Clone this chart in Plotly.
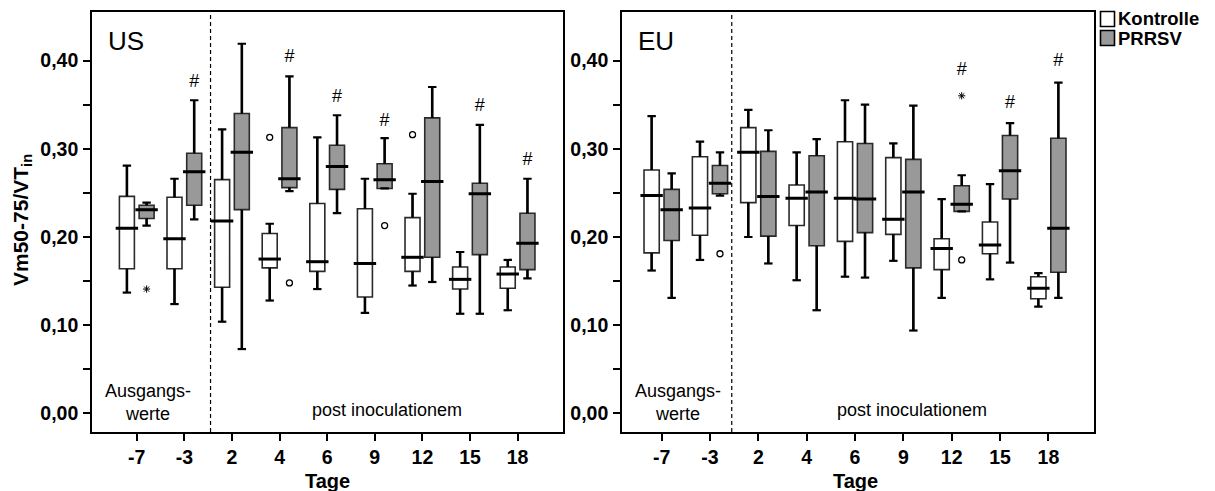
import numpy as np
import plotly.graph_objects as go

days = ["-7", "-3", "2", "4", "6", "9", "12", "15", "18"]

# US - Kontrolle
us_k_lo  = [0.137, 0.124, 0.104, 0.128, 0.141, 0.114, 0.145, 0.113, 0.117]
us_k_q1  = [0.164, 0.164, 0.143, 0.165, 0.161, 0.132, 0.161, 0.141, 0.142]
us_k_med = [0.210, 0.198, 0.218, 0.175, 0.172, 0.170, 0.177, 0.152, 0.158]
us_k_q3  = [0.246, 0.245, 0.265, 0.204, 0.238, 0.232, 0.222, 0.166, 0.166]
us_k_hi  = [0.281, 0.266, 0.322, 0.215, 0.313, 0.266, 0.249, 0.183, 0.174]
# US - PRRSV
us_p_lo  = [0.213, 0.220, 0.073, 0.252, 0.227, 0.255, 0.149, 0.113, 0.153]
us_p_q1  = [0.221, 0.236, 0.231, 0.256, 0.254, 0.255, 0.177, 0.180, 0.163]
us_p_med = [0.231, 0.274, 0.296, 0.266, 0.280, 0.265, 0.263, 0.249, 0.193]
us_p_q3  = [0.236, 0.295, 0.340, 0.324, 0.304, 0.283, 0.335, 0.261, 0.227]
us_p_hi  = [0.239, 0.355, 0.419, 0.382, 0.338, 0.312, 0.370, 0.327, 0.266]
# EU - Kontrolle
eu_k_lo  = [0.162, 0.174, 0.200, 0.151, 0.155, 0.173, 0.131, 0.152, 0.121]
eu_k_q1  = [0.182, 0.202, 0.239, 0.213, 0.195, 0.203, 0.163, 0.181, 0.130]
eu_k_med = [0.247, 0.233, 0.296, 0.244, 0.244, 0.220, 0.187, 0.191, 0.142]
eu_k_q3  = [0.276, 0.291, 0.324, 0.259, 0.308, 0.290, 0.198, 0.217, 0.155]
eu_k_hi  = [0.337, 0.308, 0.344, 0.296, 0.355, 0.306, 0.243, 0.260, 0.159]
# EU - PRRSV
eu_p_lo  = [0.131, 0.247, 0.170, 0.117, 0.154, 0.094, 0.229, 0.171, 0.131]
eu_p_q1  = [0.196, 0.249, 0.201, 0.190, 0.205, 0.165, 0.229, 0.243, 0.160]
eu_p_med = [0.231, 0.261, 0.246, 0.251, 0.243, 0.251, 0.237, 0.275, 0.210]
eu_p_q3  = [0.254, 0.281, 0.297, 0.292, 0.306, 0.288, 0.258, 0.315, 0.312]
eu_p_hi  = [0.272, 0.296, 0.321, 0.311, 0.350, 0.349, 0.270, 0.329, 0.375]

# outliers: (day index, group, value)
us_circles = [(3, "K", 0.313), (6, "K", 0.316), (3, "P", 0.148), (5, "P", 0.213)]
us_stars = [(0, "P", 0.141)]
eu_circles = [(1, "P", 0.181), (6, "P", 0.174)]
eu_stars = [(6, "P", 0.360)]
# significance markers (#) above PRRSV boxes
us_sig_idx = [1, 3, 4, 5, 7, 8]
us_sig_y = [0.375, 0.403, 0.358, 0.331, 0.348, 0.287]
eu_sig_idx = [6, 7, 8]
eu_sig_y = [0.389, 0.351, 0.399]

OFF = 0.207
BW = 0.315
WHITE = "#ffffff"
GRAY = "#999999"
BOLD = dict(family="Liberation Sans, Arial, sans-serif", weight="bold", color="black")
NORM = dict(family="Liberation Sans, Arial, sans-serif", color="black")

fig = go.Figure()
idx = np.arange(len(days))


def add_group(lo, q1, med, q3, hi, offset, fill, xa, ya):
    pos = idx + offset
    fig.add_trace(go.Box(
        x=pos, q1=q1, median=med, q3=q3, lowerfence=lo, upperfence=hi,
        width=BW, fillcolor=fill, line=dict(color="#2a2a2a", width=1.6),
        whiskerwidth=0, boxpoints=False, showlegend=False, hoverinfo="skip",
        xaxis=xa, yaxis=ya))
    wx, wy = [], []
    for p, a, b, c, d in zip(pos, lo, q1, q3, hi):
        wx += [p, p, None, p, p, None]
        wy += [a, b, None, c, d, None]
    fig.add_trace(go.Scatter(x=wx, y=wy, mode="lines", line=dict(color="black", width=2.6),
                             showlegend=False, hoverinfo="skip", xaxis=xa, yaxis=ya))
    fig.add_trace(go.Scatter(x=list(pos) + list(pos), y=list(lo) + list(hi), mode="markers",
                             marker=dict(symbol="line-ew", size=6, line=dict(color="black", width=2.2)),
                             showlegend=False, hoverinfo="skip", xaxis=xa, yaxis=ya))
    fig.add_trace(go.Scatter(x=pos, y=med, mode="markers",
                             marker=dict(symbol="line-ew", size=16, line=dict(color="black", width=3)),
                             showlegend=False, hoverinfo="skip", xaxis=xa, yaxis=ya))


def add_points(circles, stars, sig_idx, sig_y, xa, ya):
    gx = {"K": -OFF, "P": OFF}
    fig.add_trace(go.Scatter(x=[i + gx[g] for i, g, v in circles], y=[v for i, g, v in circles],
                             mode="markers",
                             marker=dict(symbol="circle-open", size=6, color="black", line=dict(width=1.3)),
                             showlegend=False, hoverinfo="skip", xaxis=xa, yaxis=ya))
    fig.add_trace(go.Scatter(x=[i + gx[g] for i, g, v in stars], y=[v for i, g, v in stars],
                             mode="markers",
                             marker=dict(symbol="asterisk-open", size=6, color="black", line=dict(width=1)),
                             showlegend=False, hoverinfo="skip", xaxis=xa, yaxis=ya))
    fig.add_trace(go.Scatter(x=[i + OFF for i in sig_idx], y=sig_y, mode="text", text=["#"] * len(sig_idx),
                             textfont=dict(size=18, **NORM), textposition="middle center",
                             showlegend=False, hoverinfo="skip", xaxis=xa, yaxis=ya))


add_group(us_k_lo, us_k_q1, us_k_med, us_k_q3, us_k_hi, -OFF, WHITE, "x", "y")
add_group(us_p_lo, us_p_q1, us_p_med, us_p_q3, us_p_hi, OFF, GRAY, "x", "y")
add_points(us_circles, us_stars, us_sig_idx, us_sig_y, "x", "y")
add_group(eu_k_lo, eu_k_q1, eu_k_med, eu_k_q3, eu_k_hi, -OFF, WHITE, "x2", "y2")
add_group(eu_p_lo, eu_p_q1, eu_p_med, eu_p_q3, eu_p_hi, OFF, GRAY, "x2", "y2")
add_points(eu_circles, eu_stars, eu_sig_idx, eu_sig_y, "x2", "y2")

W, H = 1215, 491
ydom = [1 - 432 / H, 1 - 12 / H]
xcommon = dict(tickvals=list(idx), ticktext=days, ticks="outside", ticklen=7, tickwidth=2,
               tickcolor="black", showline=True, mirror=True, linecolor="black", linewidth=1.6,
               showgrid=False, zeroline=False, tickfont=dict(size=19.5, **BOLD), fixedrange=True)
ycommon = dict(range=[-0.021, 0.455], tickvals=[0, 0.1, 0.2, 0.3, 0.4], tickformat=".2f",
               ticks="outside", ticklen=7, tickwidth=2, tickcolor="black",
               minor=dict(tickvals=[0.05, 0.15, 0.25, 0.35], ticks="outside", ticklen=7,
                          tickwidth=1.6, tickcolor="black"),
               showline=True, mirror=True, linecolor="black", linewidth=1.6, showgrid=False,
               zeroline=False, tickfont=dict(size=19.5, **BOLD), ticklabelstandoff=1, domain=ydom)

fig.update_layout(
    width=W, height=H, margin=dict(l=0, r=0, t=0, b=0), autosize=False,
    paper_bgcolor="white", plot_bgcolor="white", separators=",.",
    xaxis=dict(domain=[92 / W, 563.3 / W], range=[-0.94, 8.96], anchor="y", **xcommon),
    yaxis=dict(anchor="x", **ycommon),
    xaxis2=dict(domain=[622 / W, 1094.3 / W], range=[-0.82, 8.95], anchor="y2", **xcommon),
    yaxis2=dict(anchor="x2", **ycommon),
)

shapes = []
for xa, ya, xv in (("x", "y", 1.55), ("x2", "y2", 1.45)):
    shapes.append(dict(type="line", xref=xa, yref=ya + " domain", x0=xv, x1=xv, y0=0, y1=1,
                       line=dict(color="black", width=1.2, dash="4px,3px")))
# legend squares
shapes.append(dict(type="rect", xref="paper", yref="paper", x0=1100.5 / W, x1=1114.5 / W,
                   y0=1 - 26.5 / H, y1=1 - 11.5 / H, fillcolor=WHITE, line=dict(color="black", width=1.6)))
shapes.append(dict(type="rect", xref="paper", yref="paper", x0=1100.5 / W, x1=1114.5 / W,
                   y0=1 - 45.5 / H, y1=1 - 30.5 / H, fillcolor=GRAY, line=dict(color="black", width=1.6)))
fig.update_layout(shapes=shapes)

ann = []
ann.append(dict(text="US", xref="x domain", yref="y domain", x=0.03, y=(432 - 41) / 420,
                xanchor="left", yanchor="middle", showarrow=False, font=dict(size=26, **NORM)))
ann.append(dict(text="EU", xref="x2 domain", yref="y2 domain", x=0.03, y=(432 - 41) / 420,
                xanchor="left", yanchor="middle", showarrow=False, font=dict(size=26, **NORM)))
for xa, ya, xa_, xp in (("x", "y", 0.227, 5.25), ("x2", "y2", 0.337, 5.18)):
    ann.append(dict(text="Ausgangs-<br>werte", xref=xa, yref=ya, x=xa_, y=0.012, xanchor="center",
                    yanchor="middle", showarrow=False, font=dict(size=18, **NORM)))
    ann.append(dict(text="post inoculationem", xref=xa, yref=ya, x=xp, y=0.004, xanchor="center",
                    yanchor="middle", showarrow=False, font=dict(size=18, **NORM)))
    ann.append(dict(text="Tage", xref=xa, yref="paper", x=4, y=0, xanchor="center",
                    yanchor="bottom", yshift=-3, showarrow=False, font=dict(size=20, **BOLD)))
ann.append(dict(text="Vm50-75/VT<sub>in</sub>", xref="paper", yref="paper", x=22 / W, y=1 - 220 / H,
                textangle=-90, xanchor="center", yanchor="middle", showarrow=False,
                font=dict(size=21, **BOLD)))
ann.append(dict(text="Kontrolle", xref="paper", yref="paper", x=1117 / W, y=1 - 18.5 / H,
                xanchor="left", yanchor="middle", showarrow=False, borderpad=0,
                font=dict(size=18.5, **BOLD)))
ann.append(dict(text="PRRSV", xref="paper", yref="paper", x=1117 / W, y=1 - 38.5 / H,
                xanchor="left", yanchor="middle", showarrow=False, borderpad=0,
                font=dict(size=18.5, **BOLD)))
fig.update_layout(annotations=ann)

fig.write_html("out.html")
